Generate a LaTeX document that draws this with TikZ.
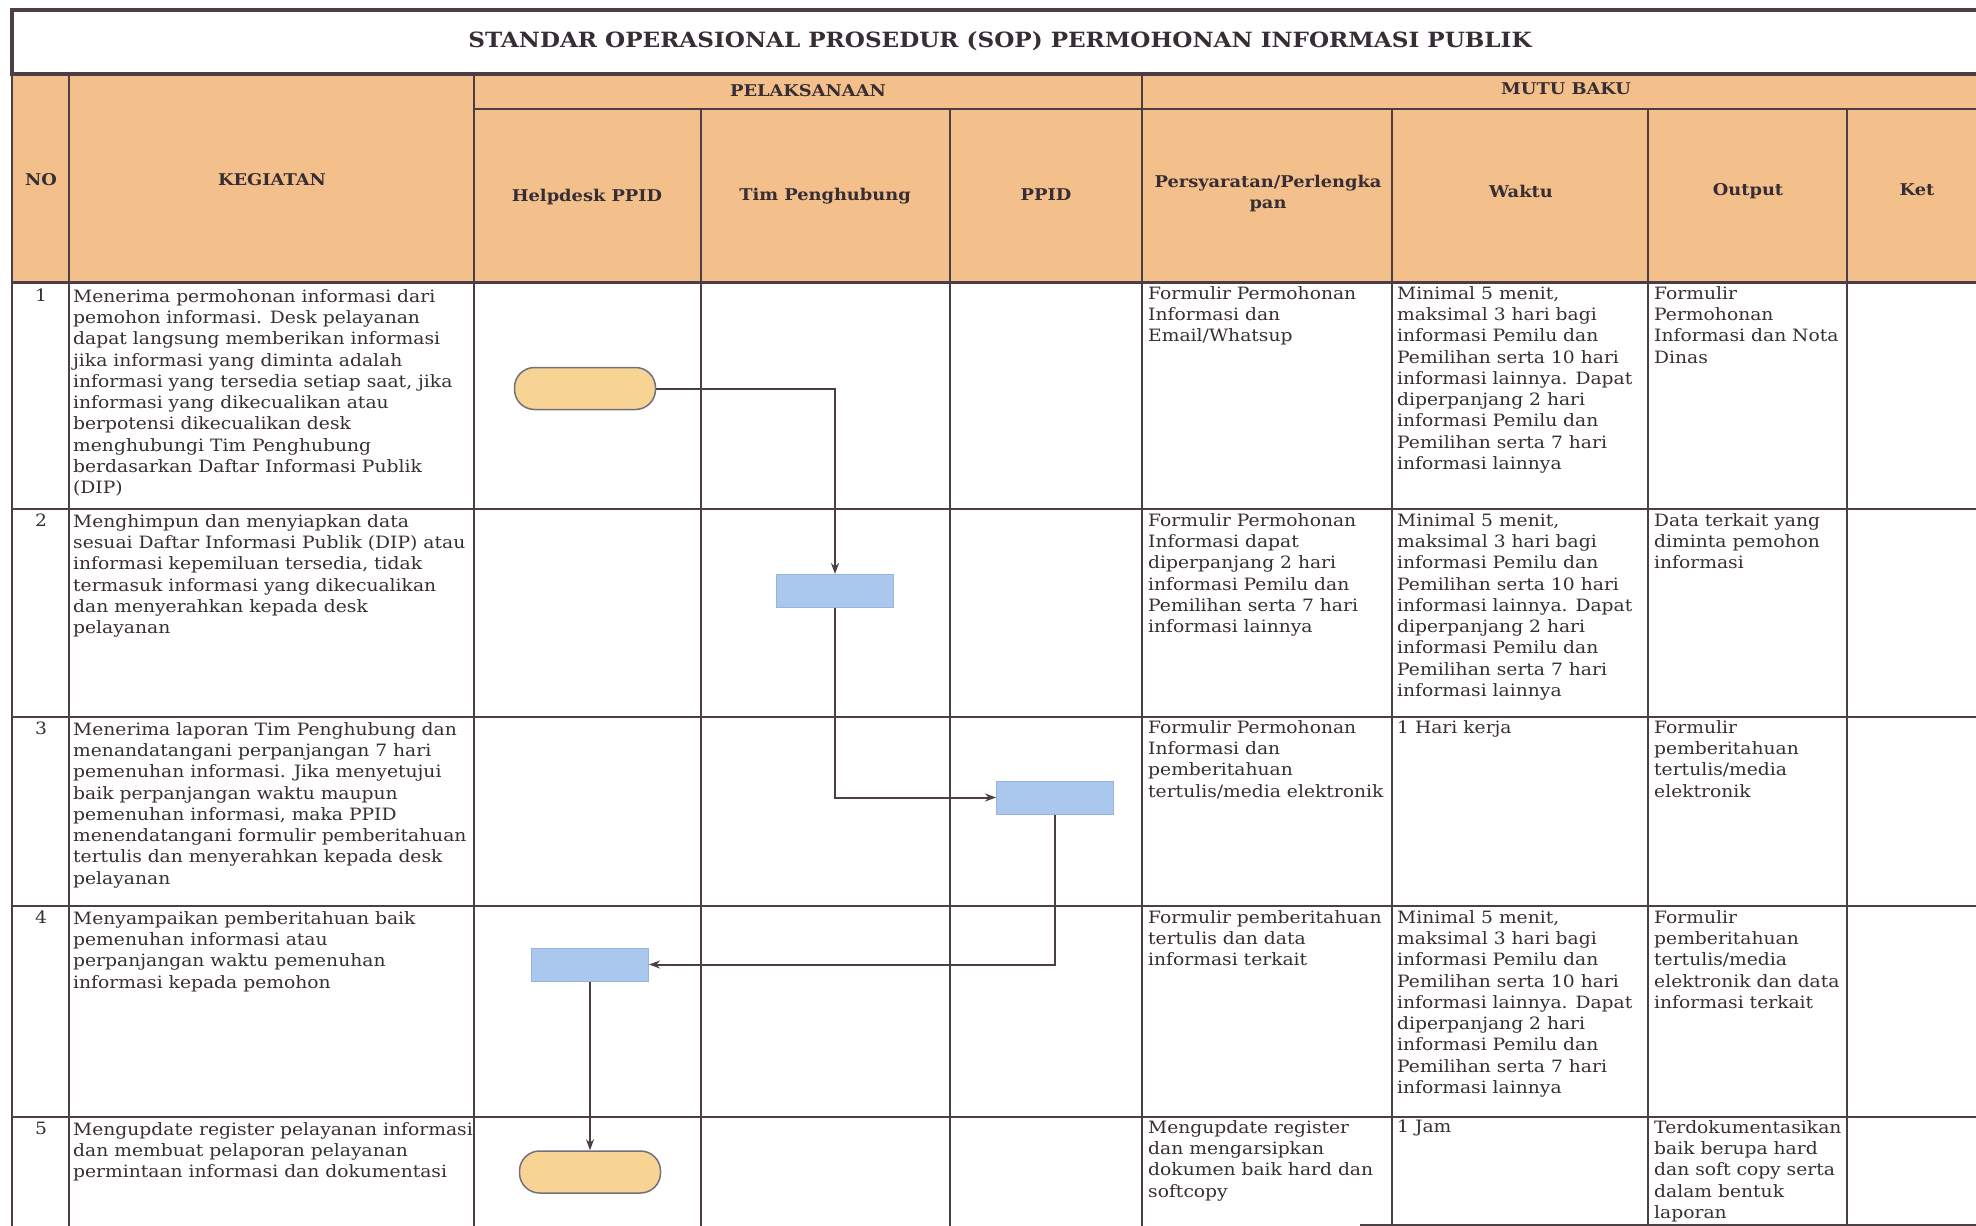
\documentclass[tikz,border=0pt]{standalone}
\usepackage{fontspec}
\setmainfont{DejaVu Serif}[FakeStretch=1.1]
\usetikzlibrary{arrows.meta}
\definecolor{hdr}{RGB}{243,192,140}
\definecolor{pill}{RGB}{247,212,148}
\definecolor{pillb}{RGB}{115,112,125}
\definecolor{boxf}{RGB}{170,200,238}
\definecolor{boxb}{RGB}{150,180,222}
\definecolor{grid}{RGB}{75,62,68}
\definecolor{ink}{RGB}{55,45,52}
\begin{document}
\begin{tikzpicture}[x=1pt,y=-1pt,
  gridline/.style={draw=grid,line width=2pt},
  body/.style={anchor=north west,inner sep=0pt,align=left,text=ink,font=\fontsize{17}{21.3}\selectfont},
  numtxt/.style={anchor=north,inner sep=0pt,text=ink,font=\fontsize{17}{21.3}\selectfont},
  hd/.style={inner sep=0pt,align=center,text=ink,font=\fontsize{16.2}{21}\selectfont\bfseries},
  titletxt/.style={inner sep=0pt,text=ink,font=\fontsize{21}{25}\selectfont\bfseries},
  term/.style={draw=pillb,fill=pill,line width=1.5pt,rounded corners=20pt,minimum width=141pt,minimum height=42pt,inner sep=0pt},
  proc/.style={draw=boxb,fill=boxf,line width=1pt,minimum width=117pt,minimum height=33pt,inner sep=0pt},
  flow/.style={draw=grid,line width=2pt,-{Stealth[length=11pt,width=8pt]}},
]
\path[use as bounding box] (0,0) rectangle (1976,1226);
% header background
\fill[hdr] (12,73.5) rectangle (1980,282.5);
% title box
\draw[draw=grid,line width=4pt] (1985,9.5) -- (12,9.5) -- (12,73.5) -- (1985,73.5);
\draw[gridline] (12,73.5) -- (12,1235);
\draw[draw=grid,line width=3pt] (12,282.5) -- (1985,282.5);
\draw[gridline] (474,109) -- (1985,109);
% column lines
\foreach \x in {69,474,1142} \draw[gridline] (\x,73.5) -- (\x,1235);
\foreach \x in {701,950,1392,1648,1847} \draw[gridline] (\x,109) -- (\x,1235);
% row lines
\foreach \y in {509,717,906,1117} \draw[gridline] (12,\y) -- (1985,\y);
\draw[gridline] (1360,1225) -- (1985,1225);

% titles and headers
\node[titletxt] (title) at (1000,41) {STANDAR OPERASIONAL PROSEDUR (SOP) PERMOHONAN INFORMASI PUBLIK};
\node[hd] (hpel) at (808,91) {PELAKSANAAN};
\node[hd] (hmutu) at (1566,89) {MUTU BAKU};
\node[hd] (hno) at (41,180) {NO};
\node[hd] (hkeg) at (272,180) {KEGIATAN};
\node[hd] (hhelp) at (587,197) {Helpdesk PPID};
\node[hd] (htim) at (825,196) {Tim Penghubung};
\node[hd] (hppid) at (1046,195) {PPID};
\node[hd] (hpers) at (1268,194) {Persyaratan/Perlengka\\pan};
\node[hd] (hwak) at (1521,191) {Waktu};
\node[hd] (hout) at (1748,191) {Output};
\node[hd] (hket) at (1917,190) {Ket};

% row 1
\node[numtxt] (n1) at (41,289) {1};
\node[body] (k1) at (73,289) {Menerima permohonan informasi dari\\pemohon informasi. Desk pelayanan\\dapat langsung memberikan informasi\\jika informasi yang diminta adalah\\informasi yang tersedia setiap saat, jika\\informasi yang dikecualikan atau\\berpotensi dikecualikan desk\\menghubungi Tim Penghubung\\berdasarkan Daftar Informasi Publik\\(DIP)};
\node[body] (p1) at (1148,286) {Formulir Permohonan\\Informasi dan\\Email/Whatsup};
\node[body] (w1) at (1397,286) {Minimal 5 menit,\\maksimal 3 hari bagi\\informasi Pemilu dan\\Pemilihan serta 10 hari\\informasi lainnya. Dapat\\diperpanjang 2 hari\\informasi Pemilu dan\\Pemilihan serta 7 hari\\informasi lainnya};
\node[body] (o1) at (1654,286) {Formulir\\Permohonan\\Informasi dan Nota\\Dinas};

% row 2
\node[numtxt] (n2) at (41,514) {2};
\node[body] (k2) at (73,514) {Menghimpun dan menyiapkan data\\sesuai Daftar Informasi Publik (DIP) atau\\informasi kepemiluan tersedia, tidak\\termasuk informasi yang dikecualikan\\dan menyerahkan kepada desk\\pelayanan};
\node[body] (p2) at (1148,513) {Formulir Permohonan\\Informasi dapat\\diperpanjang 2 hari\\informasi Pemilu dan\\Pemilihan serta 7 hari\\informasi lainnya};
\node[body] (w2) at (1397,513) {Minimal 5 menit,\\maksimal 3 hari bagi\\informasi Pemilu dan\\Pemilihan serta 10 hari\\informasi lainnya. Dapat\\diperpanjang 2 hari\\informasi Pemilu dan\\Pemilihan serta 7 hari\\informasi lainnya};
\node[body] (o2) at (1654,513) {Data terkait yang\\diminta pemohon\\informasi};

% row 3
\node[numtxt] (n3) at (41,722) {3};
\node[body] (k3) at (73,722) {Menerima laporan Tim Penghubung dan\\menandatangani perpanjangan 7 hari\\pemenuhan informasi. Jika menyetujui\\baik perpanjangan waktu maupun\\pemenuhan informasi, maka PPID\\menendatangani formulir pemberitahuan\\tertulis dan menyerahkan kepada desk\\pelayanan};
\node[body] (p3) at (1148,720) {Formulir Permohonan\\Informasi dan\\pemberitahuan\\tertulis/media elektronik};
\node[body] (w3) at (1397,720) {1 Hari kerja};
\node[body] (o3) at (1654,720) {Formulir\\pemberitahuan\\tertulis/media\\elektronik};

% row 4
\node[numtxt] (n4) at (41,911) {4};
\node[body] (k4) at (73,911) {Menyampaikan pemberitahuan baik\\pemenuhan informasi atau\\perpanjangan waktu pemenuhan\\informasi kepada pemohon};
\node[body] (p4) at (1148,910) {Formulir pemberitahuan\\tertulis dan data\\informasi terkait};
\node[body] (w4) at (1397,910) {Minimal 5 menit,\\maksimal 3 hari bagi\\informasi Pemilu dan\\Pemilihan serta 10 hari\\informasi lainnya. Dapat\\diperpanjang 2 hari\\informasi Pemilu dan\\Pemilihan serta 7 hari\\informasi lainnya};
\node[body] (o4) at (1654,910) {Formulir\\pemberitahuan\\tertulis/media\\elektronik dan data\\informasi terkait};

% row 5
\node[numtxt] (n5) at (41,1122) {5};
\node[body] (k5) at (73,1122) {Mengupdate register pelayanan informasi\\dan membuat pelaporan pelayanan\\permintaan informasi dan dokumentasi};
\node[body] (p5) at (1148,1120) {Mengupdate register\\dan mengarsipkan\\dokumen baik hard dan\\softcopy};
\node[body] (w5) at (1397,1120) {1 Jam};
\node[body] (o5) at (1654,1120) {Terdokumentasikan\\baik berupa hard\\dan soft copy serta\\dalam bentuk\\laporan};

% flow shapes
\node[term] (start) at (585,388.5) {};
\node[proc] (b2) at (835,591) {};
\node[proc] (b3) at (1055,797.5) {};
\node[proc] (b4) at (590,964.5) {};
\node[term] (finish) at (590,1172) {};

\draw[flow] (start.east) -| (b2.north);
\draw[flow] (b2.south) |- (b3.west);
\draw[flow] (b3.south) |- (b4.east);
\draw[flow] (b4.south) -- (finish.north);
\end{tikzpicture}
\end{document}
